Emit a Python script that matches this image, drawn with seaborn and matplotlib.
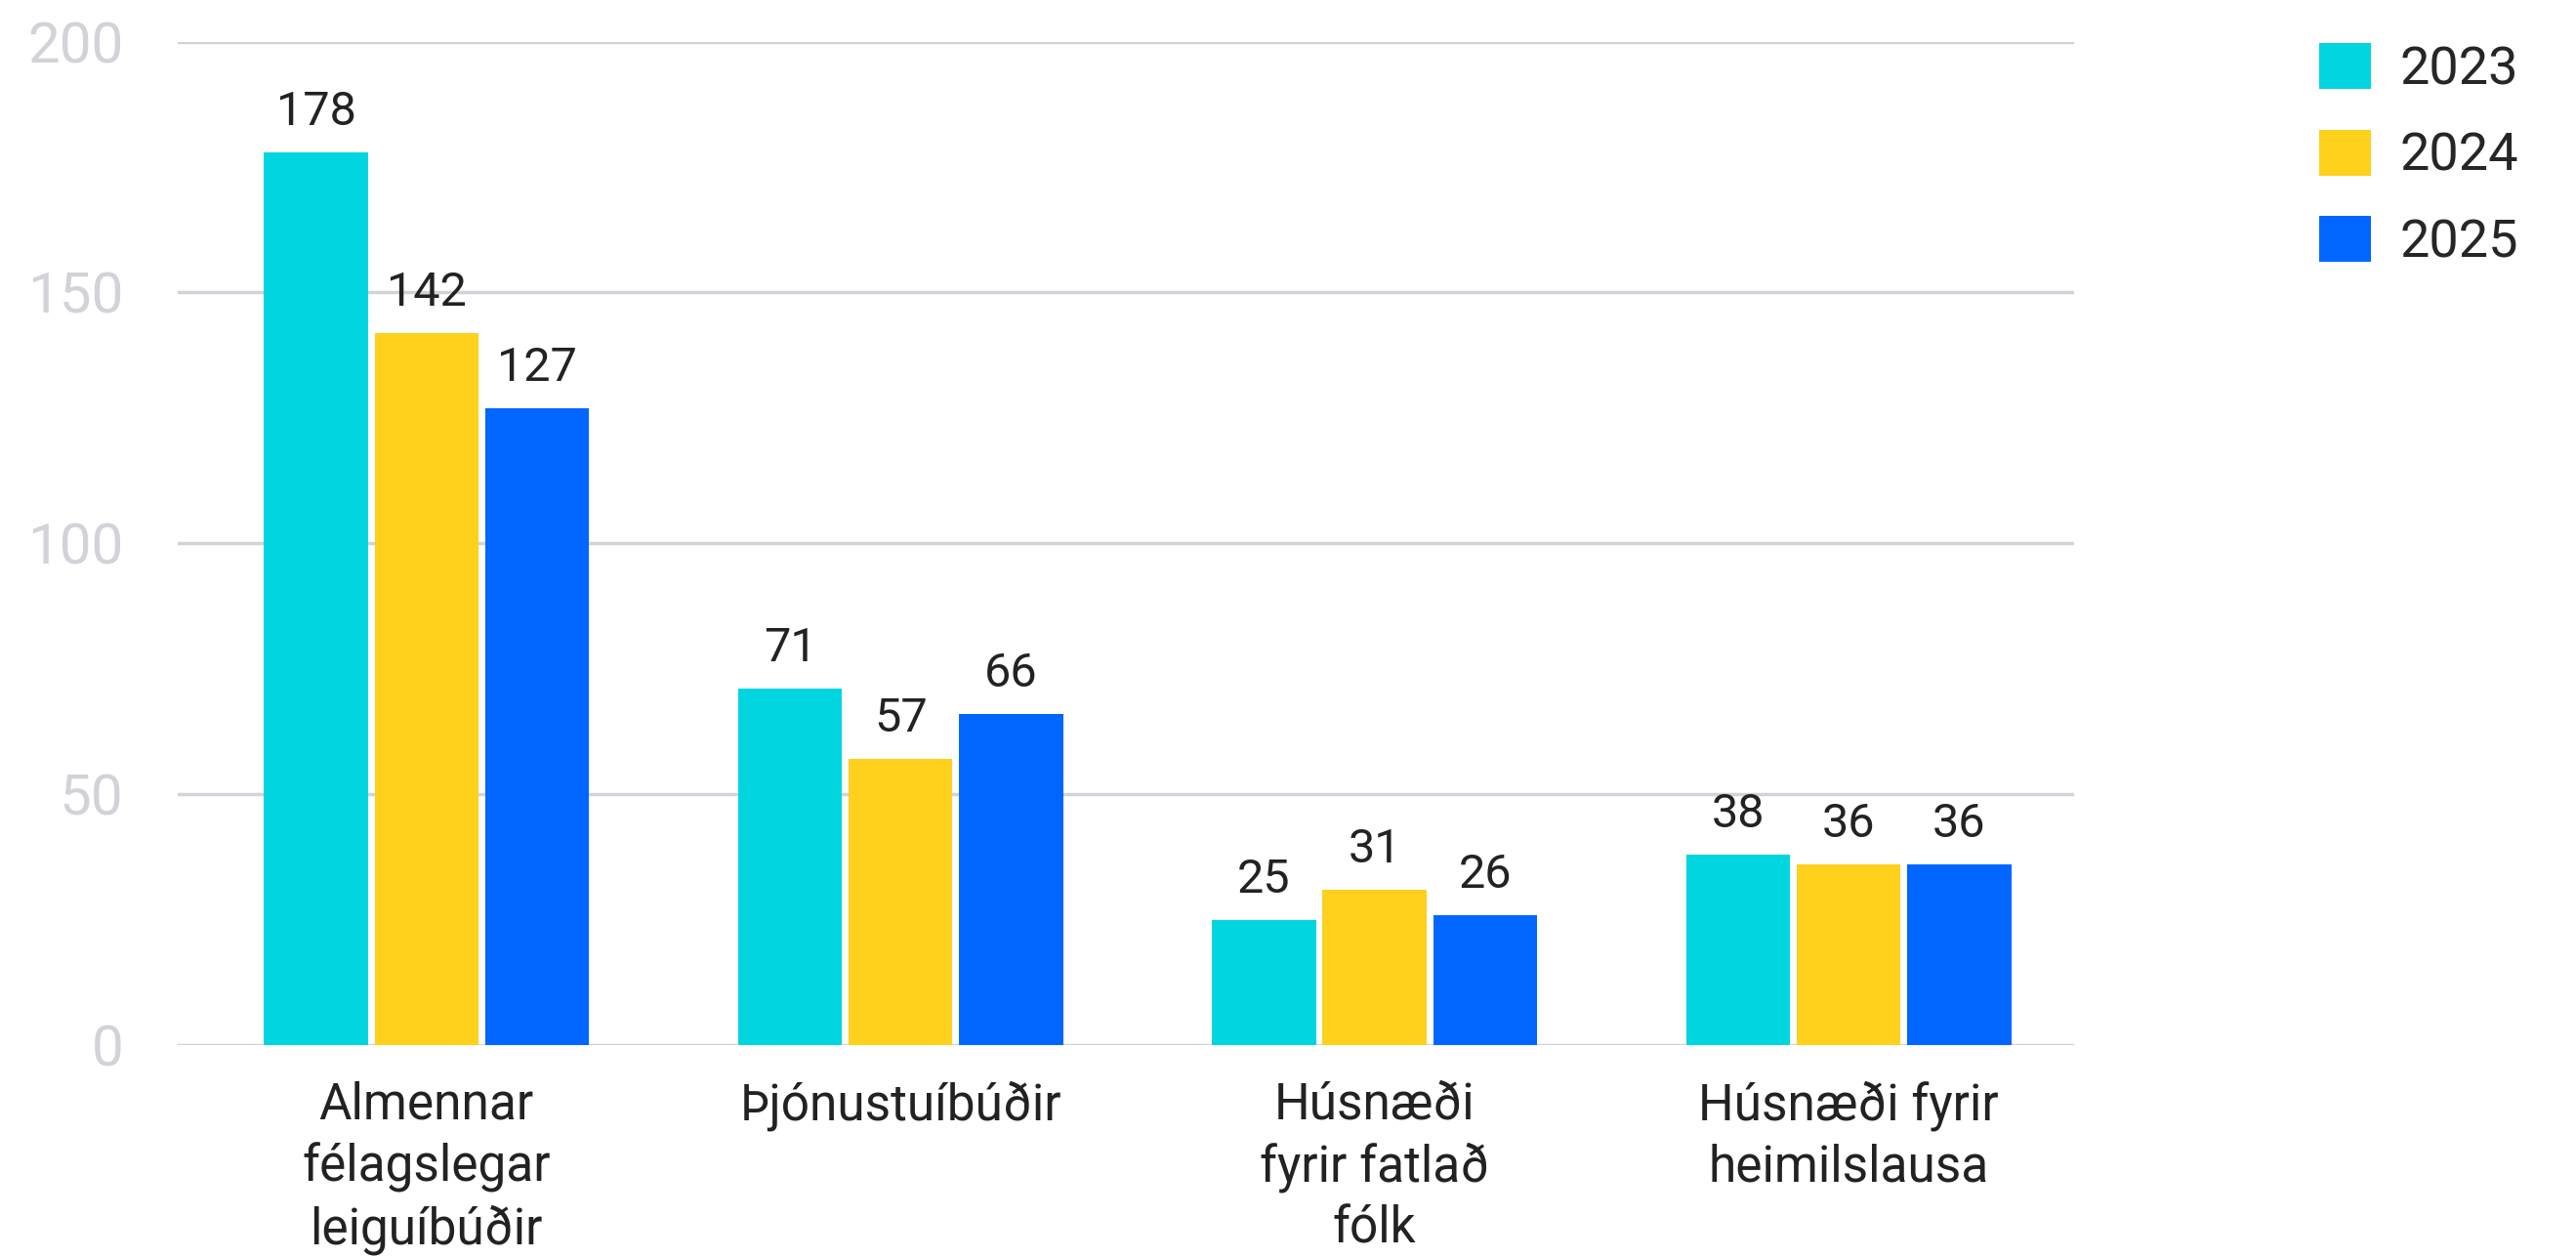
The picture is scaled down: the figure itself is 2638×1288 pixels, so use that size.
import matplotlib
matplotlib.use("Agg")
import matplotlib.pyplot as plt
import seaborn as sns
import pandas as pd

# Housing units by type and year
categories = [
    "Almennar\nfélagslegar\nleiguíbúðir",
    "Þjónustuíbúðir",
    "Húsnæði\nfyrir fatlað\nfólk",
    "Húsnæði fyrir\nheimilslausa",
]
years = ["2023", "2024", "2025"]
values_2023 = [178, 71, 25, 38]
values_2024 = [142, 57, 31, 36]
values_2025 = [127, 66, 26, 36]
y_ticks = [0, 50, 100, 150, 200]
colors = ["#00D5E0", "#FFD01C", "#0066FF"]

df = pd.DataFrame({
    "category": categories * 3,
    "year": [y for y in years for _ in categories],
    "value": values_2023 + values_2024 + values_2025,
})

sns.set_theme(style="white")
plt.rcParams["font.family"] = ["Roboto", "DejaVu Sans"]

fig = plt.figure(figsize=(26.38, 12.88), dpi=100)
ax = fig.add_axes([0.069, 0.169, 0.736, 0.798])

sns.barplot(
    data=df, x="category", y="value", hue="year",
    order=categories, hue_order=years, palette=colors,
    width=0.7, gap=0.06, saturation=1, linewidth=0,
    errorbar=None, ax=ax, zorder=3,
)

for container in ax.containers:
    ax.bar_label(container, fmt="{:.0f}", padding=13, fontsize=35, color="#222222")

ax.set_ylim(0, 200)
ax.set_xlim(-0.525, 3.475)
ax.set_yticks(y_ticks)
ax.set_xlabel("")
ax.set_ylabel("")
ax.set_axisbelow(True)
ax.yaxis.grid(True, color="#D2D3D9", linewidth=2.5)
ax.xaxis.grid(False)
for s in ax.spines.values():
    s.set_visible(False)

ax.tick_params(axis="y", length=0, pad=40, labelsize=42, labelcolor="#D2D3D9")
ax.tick_params(axis="x", length=0, pad=26, labelsize=37, labelcolor="#222222")
for lbl in ax.get_xticklabels():
    lbl.set_linespacing(1.32)

ax.legend(
    loc="upper left", bbox_to_anchor=(2375 / 2638, 1 - 44 / 1288),
    bbox_transform=fig.transFigure, frameon=False, fontsize=39,
    handlelength=0.97, handleheight=0.97, handletextpad=0.55,
    labelspacing=0.65, borderaxespad=0, borderpad=0,
)

fig.savefig("out.png", dpi=100)
